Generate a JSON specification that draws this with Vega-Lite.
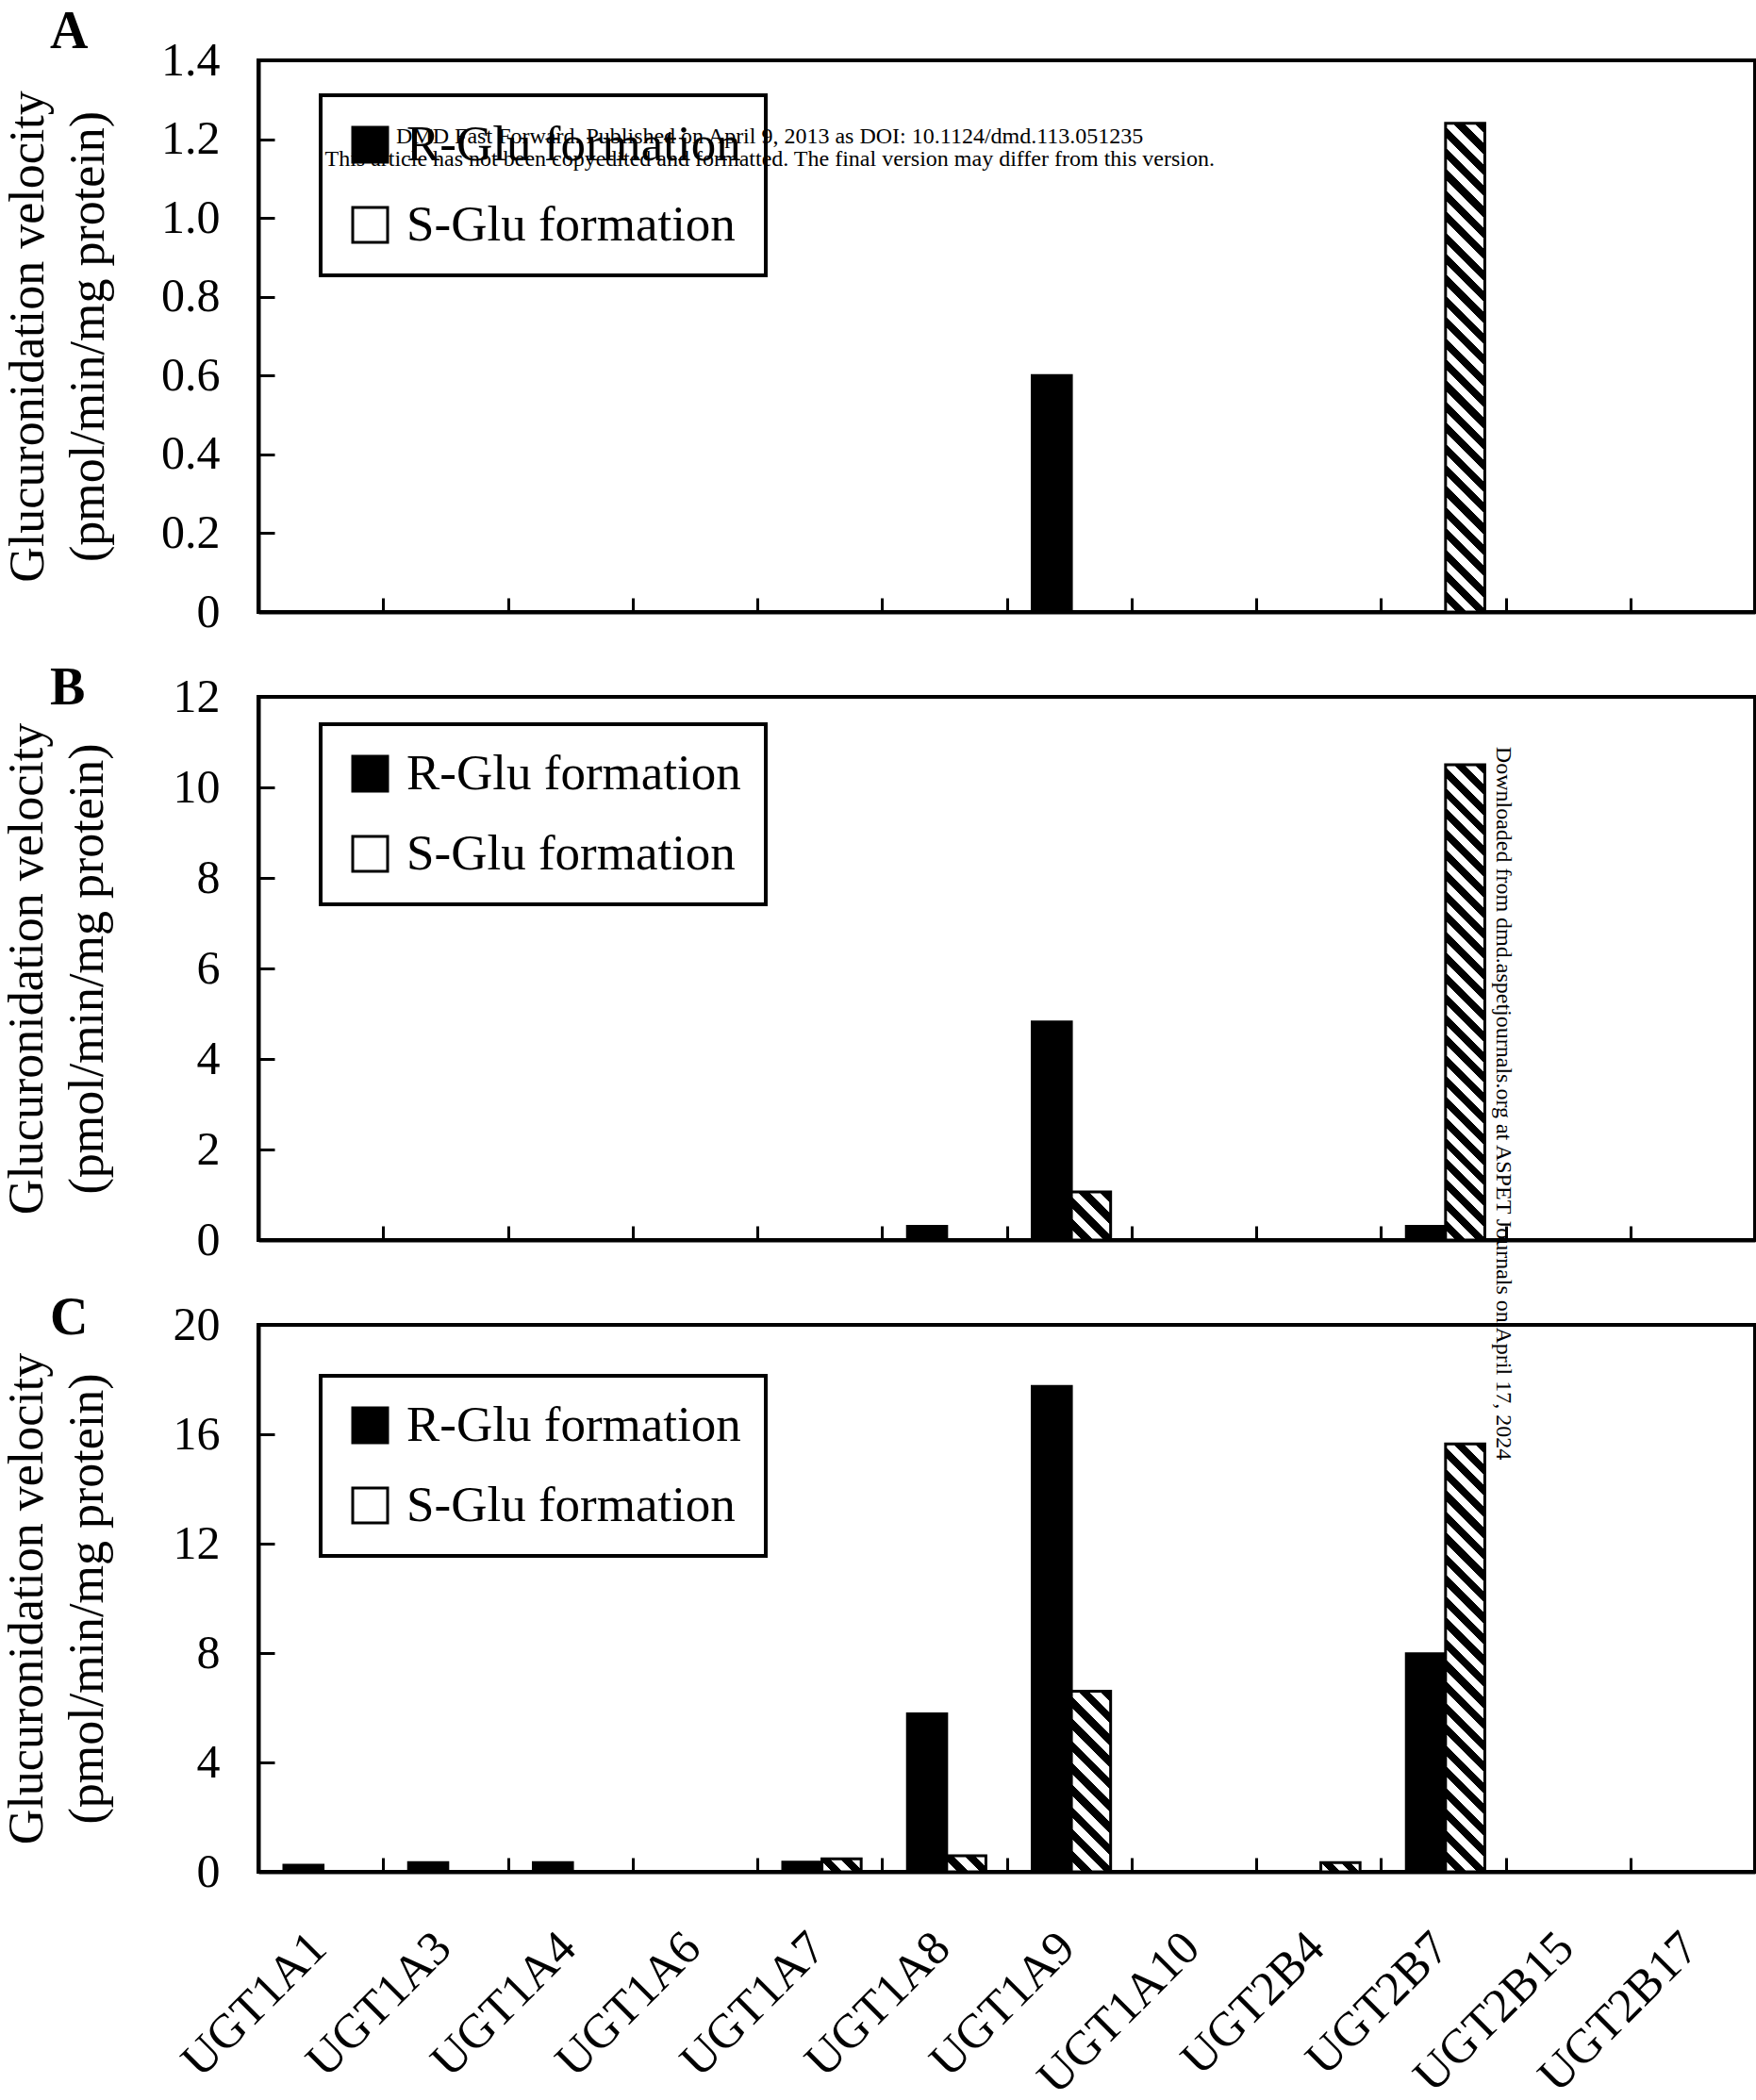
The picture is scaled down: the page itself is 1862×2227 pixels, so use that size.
{
  "$schema": "https://vega.github.io/schema/vega-lite/v6.json",
  "background": "white",
  "padding": {"left": 0, "top": 4, "right": 0, "bottom": 0},
  "datasets": {
    "bars": [
      {"panel": "A", "iso": "UGT1A1", "series": "R", "value": 0},
      {"panel": "A", "iso": "UGT1A3", "series": "R", "value": 0},
      {"panel": "A", "iso": "UGT1A4", "series": "R", "value": 0},
      {"panel": "A", "iso": "UGT1A6", "series": "R", "value": 0},
      {"panel": "A", "iso": "UGT1A7", "series": "R", "value": 0},
      {"panel": "A", "iso": "UGT1A8", "series": "R", "value": 0},
      {"panel": "A", "iso": "UGT1A9", "series": "R", "value": 0.60},
      {"panel": "A", "iso": "UGT1A10", "series": "R", "value": 0},
      {"panel": "A", "iso": "UGT2B4", "series": "R", "value": 0},
      {"panel": "A", "iso": "UGT2B7", "series": "R", "value": 0},
      {"panel": "A", "iso": "UGT2B15", "series": "R", "value": 0},
      {"panel": "A", "iso": "UGT2B17", "series": "R", "value": 0},
      {"panel": "A", "iso": "UGT1A1", "series": "S", "value": 0},
      {"panel": "A", "iso": "UGT1A3", "series": "S", "value": 0},
      {"panel": "A", "iso": "UGT1A4", "series": "S", "value": 0},
      {"panel": "A", "iso": "UGT1A6", "series": "S", "value": 0},
      {"panel": "A", "iso": "UGT1A7", "series": "S", "value": 0},
      {"panel": "A", "iso": "UGT1A8", "series": "S", "value": 0},
      {"panel": "A", "iso": "UGT1A9", "series": "S", "value": 0},
      {"panel": "A", "iso": "UGT1A10", "series": "S", "value": 0},
      {"panel": "A", "iso": "UGT2B4", "series": "S", "value": 0},
      {"panel": "A", "iso": "UGT2B7", "series": "S", "value": 1.24},
      {"panel": "A", "iso": "UGT2B15", "series": "S", "value": 0},
      {"panel": "A", "iso": "UGT2B17", "series": "S", "value": 0},
      {"panel": "B", "iso": "UGT1A1", "series": "R", "value": 0},
      {"panel": "B", "iso": "UGT1A3", "series": "R", "value": 0},
      {"panel": "B", "iso": "UGT1A4", "series": "R", "value": 0},
      {"panel": "B", "iso": "UGT1A6", "series": "R", "value": 0},
      {"panel": "B", "iso": "UGT1A7", "series": "R", "value": 0},
      {"panel": "B", "iso": "UGT1A8", "series": "R", "value": 0.30},
      {"panel": "B", "iso": "UGT1A9", "series": "R", "value": 4.82},
      {"panel": "B", "iso": "UGT1A10", "series": "R", "value": 0},
      {"panel": "B", "iso": "UGT2B4", "series": "R", "value": 0},
      {"panel": "B", "iso": "UGT2B7", "series": "R", "value": 0.30},
      {"panel": "B", "iso": "UGT2B15", "series": "R", "value": 0},
      {"panel": "B", "iso": "UGT2B17", "series": "R", "value": 0},
      {"panel": "B", "iso": "UGT1A1", "series": "S", "value": 0},
      {"panel": "B", "iso": "UGT1A3", "series": "S", "value": 0},
      {"panel": "B", "iso": "UGT1A4", "series": "S", "value": 0},
      {"panel": "B", "iso": "UGT1A6", "series": "S", "value": 0},
      {"panel": "B", "iso": "UGT1A7", "series": "S", "value": 0},
      {"panel": "B", "iso": "UGT1A8", "series": "S", "value": 0},
      {"panel": "B", "iso": "UGT1A9", "series": "S", "value": 1.06},
      {"panel": "B", "iso": "UGT1A10", "series": "S", "value": 0},
      {"panel": "B", "iso": "UGT2B4", "series": "S", "value": 0},
      {"panel": "B", "iso": "UGT2B7", "series": "S", "value": 10.5},
      {"panel": "B", "iso": "UGT2B15", "series": "S", "value": 0},
      {"panel": "B", "iso": "UGT2B17", "series": "S", "value": 0},
      {"panel": "C", "iso": "UGT1A1", "series": "R", "value": 0.24},
      {"panel": "C", "iso": "UGT1A3", "series": "R", "value": 0.34},
      {"panel": "C", "iso": "UGT1A4", "series": "R", "value": 0.34},
      {"panel": "C", "iso": "UGT1A6", "series": "R", "value": 0},
      {"panel": "C", "iso": "UGT1A7", "series": "R", "value": 0.35},
      {"panel": "C", "iso": "UGT1A8", "series": "R", "value": 5.78},
      {"panel": "C", "iso": "UGT1A9", "series": "R", "value": 17.75},
      {"panel": "C", "iso": "UGT1A10", "series": "R", "value": 0},
      {"panel": "C", "iso": "UGT2B4", "series": "R", "value": 0},
      {"panel": "C", "iso": "UGT2B7", "series": "R", "value": 7.97},
      {"panel": "C", "iso": "UGT2B15", "series": "R", "value": 0},
      {"panel": "C", "iso": "UGT2B17", "series": "R", "value": 0},
      {"panel": "C", "iso": "UGT1A1", "series": "S", "value": 0},
      {"panel": "C", "iso": "UGT1A3", "series": "S", "value": 0},
      {"panel": "C", "iso": "UGT1A4", "series": "S", "value": 0},
      {"panel": "C", "iso": "UGT1A6", "series": "S", "value": 0},
      {"panel": "C", "iso": "UGT1A7", "series": "S", "value": 0.47},
      {"panel": "C", "iso": "UGT1A8", "series": "S", "value": 0.59},
      {"panel": "C", "iso": "UGT1A9", "series": "S", "value": 6.6},
      {"panel": "C", "iso": "UGT1A10", "series": "S", "value": 0},
      {"panel": "C", "iso": "UGT2B4", "series": "S", "value": 0.34},
      {"panel": "C", "iso": "UGT2B7", "series": "S", "value": 15.65},
      {"panel": "C", "iso": "UGT2B15", "series": "S", "value": 0},
      {"panel": "C", "iso": "UGT2B17", "series": "S", "value": 0}
    ]
  },
  "bounds": "flush",
  "spacing": 90,
  "resolve": {
    "scale": {"fill": "independent"},
    "legend": {"fill": "independent"}
  },
  "vconcat": [
    {
      "width": 1587,
      "height": 585,
      "title": {"text": "A", "anchor": "start", "frame": "group", "dx": -221, "dy": 68, "offset": 0, "baseline": "alphabetic", "fontSize": 56, "fontWeight": "bold", "font": "Liberation Serif", "color": "black"},
      "layer": [
        {
          "data": {"name": "bars"},
          "transform": [{"filter": "datum.panel === 'A' && datum.series === 'R'"}],
          "mark": {"type": "bar", "stroke": "black", "strokeWidth": 3},
          "encoding": {
            "x": {"field": "iso", "type": "nominal",
              "scale": {"type": "band", "domain": ["UGT1A1","UGT1A3","UGT1A4","UGT1A6","UGT1A7","UGT1A8","UGT1A9","UGT1A10","UGT2B4","UGT2B7","UGT2B15","UGT2B17"], "paddingInner": 0, "paddingOuter": 0},
              "axis": {"title": null, "labels": false, "tickSize": -15, "tickBand": "extent"}},
            "xOffset": {"field": "series", "type": "nominal", "scale": {"domain": ["R","S"], "paddingInner": 0, "paddingOuter": 0.59, "align": 0.55}},
            "y": {"field": "value", "type": "quantitative", "scale": {"domain": [0, 1.4], "nice": false},
              "axis": {"values": [0,0.2,0.4,0.6,0.8,1,1.2,1.4], "labelExpr": "datum.value === 0 ? '0' : format(datum.value, '.1f')", "tickSize": -17, "labelPadding": 58, "labelFontSize": 50,
                "title": ["Glucuronidation velocity", "(pmol/min/mg protein)"], "titleFontSize": 52, "titleFontWeight": "normal", "titleLineHeight": 64, "titlePadding": 50}},
            "fill": {"field": "series", "type": "nominal", "scale": {"domain": ["R","S"], "range": ["black","white"]},
              "legend": {"orient": "none", "legendX": 66, "legendY": 37, "title": null, "symbolType": "square", "symbolSize": 1369, "symbolStrokeColor": "black", "symbolStrokeWidth": 3, "labelFontSize": 53, "labelFont": "Liberation Serif", "labelColor": "black", "labelLimit": 0, "labelOffset": 12, "rowPadding": 31, "padding": 26, "strokeColor": "black",
                "labelExpr": "datum.value === 'R' ? 'R-Glu formation' : 'S-Glu formation'"}}
          }
        },
        {
          "data": {"name": "bars"},
          "transform": [{"filter": "datum.panel === 'A' && datum.series === 'S'"}],
          "mark": {"type": "bar", "stroke": "black", "strokeWidth": 3},
          "encoding": {
            "x": {"field": "iso", "type": "nominal"},
            "xOffset": {"field": "series", "type": "nominal"},
            "y": {"field": "value", "type": "quantitative"},
            "fill": {"condition": [
                {"test": "datum.iso === 'UGT2B7'", "value": {"gradient":"linear","x1":0,"y1":1,"x2":0.0862,"y2":-0.0734,"stops":[{"offset":0.02,"color":"#fff"},{"offset":0.02,"color":"#000"},{"offset":0.04,"color":"#000"},{"offset":0.04,"color":"#fff"},{"offset":0.06,"color":"#fff"},{"offset":0.06,"color":"#000"},{"offset":0.08,"color":"#000"},{"offset":0.08,"color":"#fff"},{"offset":0.1,"color":"#fff"},{"offset":0.1,"color":"#000"},{"offset":0.12,"color":"#000"},{"offset":0.12,"color":"#fff"},{"offset":0.14,"color":"#fff"},{"offset":0.14,"color":"#000"},{"offset":0.16,"color":"#000"},{"offset":0.16,"color":"#fff"},{"offset":0.18,"color":"#fff"},{"offset":0.18,"color":"#000"},{"offset":0.2,"color":"#000"},{"offset":0.2,"color":"#fff"},{"offset":0.22,"color":"#fff"},{"offset":0.22,"color":"#000"},{"offset":0.24,"color":"#000"},{"offset":0.24,"color":"#fff"},{"offset":0.26,"color":"#fff"},{"offset":0.26,"color":"#000"},{"offset":0.28,"color":"#000"},{"offset":0.28,"color":"#fff"},{"offset":0.3,"color":"#fff"},{"offset":0.3,"color":"#000"},{"offset":0.32,"color":"#000"},{"offset":0.32,"color":"#fff"},{"offset":0.34,"color":"#fff"},{"offset":0.34,"color":"#000"},{"offset":0.36,"color":"#000"},{"offset":0.36,"color":"#fff"},{"offset":0.38,"color":"#fff"},{"offset":0.38,"color":"#000"},{"offset":0.4,"color":"#000"},{"offset":0.4,"color":"#fff"},{"offset":0.42,"color":"#fff"},{"offset":0.42,"color":"#000"},{"offset":0.44,"color":"#000"},{"offset":0.44,"color":"#fff"},{"offset":0.46,"color":"#fff"},{"offset":0.46,"color":"#000"},{"offset":0.48,"color":"#000"},{"offset":0.48,"color":"#fff"},{"offset":0.5,"color":"#fff"},{"offset":0.5,"color":"#000"},{"offset":0.52,"color":"#000"},{"offset":0.52,"color":"#fff"},{"offset":0.54,"color":"#fff"},{"offset":0.54,"color":"#000"},{"offset":0.56,"color":"#000"},{"offset":0.56,"color":"#fff"},{"offset":0.58,"color":"#fff"},{"offset":0.58,"color":"#000"},{"offset":0.6,"color":"#000"},{"offset":0.6,"color":"#fff"},{"offset":0.62,"color":"#fff"},{"offset":0.62,"color":"#000"},{"offset":0.64,"color":"#000"},{"offset":0.64,"color":"#fff"},{"offset":0.66,"color":"#fff"},{"offset":0.66,"color":"#000"},{"offset":0.68,"color":"#000"},{"offset":0.68,"color":"#fff"},{"offset":0.7,"color":"#fff"},{"offset":0.7,"color":"#000"},{"offset":0.72,"color":"#000"},{"offset":0.72,"color":"#fff"},{"offset":0.74,"color":"#fff"},{"offset":0.74,"color":"#000"},{"offset":0.76,"color":"#000"},{"offset":0.76,"color":"#fff"},{"offset":0.78,"color":"#fff"},{"offset":0.78,"color":"#000"},{"offset":0.8,"color":"#000"},{"offset":0.8,"color":"#fff"},{"offset":0.82,"color":"#fff"},{"offset":0.82,"color":"#000"},{"offset":0.84,"color":"#000"},{"offset":0.84,"color":"#fff"},{"offset":0.86,"color":"#fff"},{"offset":0.86,"color":"#000"},{"offset":0.88,"color":"#000"},{"offset":0.88,"color":"#fff"},{"offset":0.9,"color":"#fff"},{"offset":0.9,"color":"#000"},{"offset":0.92,"color":"#000"},{"offset":0.92,"color":"#fff"},{"offset":0.94,"color":"#fff"},{"offset":0.94,"color":"#000"},{"offset":0.96,"color":"#000"},{"offset":0.96,"color":"#fff"},{"offset":0.98,"color":"#fff"},{"offset":0.98,"color":"#000"}]}}
              ], "value": "white"}
          }
        },
        {
          "data": {"values": [{"note": "DMD Fast Forward. Published on April 9, 2013 as DOI: 10.1124/dmd.113.051235"}]},
          "mark": {"type": "text", "fontSize": 24, "font": "Liberation Serif", "align": "center", "baseline": "alphabetic", "color": "black"},
          "encoding": {
            "x": {"datum": "UGT1A7", "type": "nominal", "bandPosition": 0.1},
            "y": {"datum": 1.189, "type": "quantitative"},
            "text": {"field": "note"}
          }
        },
        {
          "data": {"values": [{"note": "This article has not been copyedited and formatted. The final version may differ from this version."}]},
          "mark": {"type": "text", "fontSize": 24, "font": "Liberation Serif", "align": "center", "baseline": "alphabetic", "color": "black"},
          "encoding": {
            "x": {"datum": "UGT1A7", "type": "nominal", "bandPosition": 0.1},
            "y": {"datum": 1.132, "type": "quantitative"},
            "text": {"field": "note"}
          }
        }
      ]
    },
    {
      "width": 1587,
      "height": 576,
      "title": {"text": "B", "anchor": "start", "frame": "group", "dx": -221, "dy": 89, "offset": 0, "baseline": "alphabetic", "fontSize": 56, "fontWeight": "bold", "font": "Liberation Serif", "color": "black"},
      "layer": [
        {
          "data": {"name": "bars"},
          "transform": [{"filter": "datum.panel === 'B' && datum.series === 'R'"}],
          "mark": {"type": "bar", "stroke": "black", "strokeWidth": 3},
          "encoding": {
            "x": {"field": "iso", "type": "nominal",
              "scale": {"type": "band", "domain": ["UGT1A1","UGT1A3","UGT1A4","UGT1A6","UGT1A7","UGT1A8","UGT1A9","UGT1A10","UGT2B4","UGT2B7","UGT2B15","UGT2B17"], "paddingInner": 0, "paddingOuter": 0},
              "axis": {"title": null, "labels": false, "tickSize": -15, "tickBand": "extent"}},
            "xOffset": {"field": "series", "type": "nominal", "scale": {"domain": ["R","S"], "paddingInner": 0, "paddingOuter": 0.59, "align": 0.55}},
            "y": {"field": "value", "type": "quantitative", "scale": {"domain": [0, 12], "nice": false},
              "axis": {"values": [0,2,4,6,8,10,12], "tickSize": -17, "labelPadding": 58, "labelFontSize": 50,
                "title": ["Glucuronidation velocity", "(pmol/min/mg protein)"], "titleFontSize": 52, "titleFontWeight": "normal", "titleLineHeight": 64, "titlePadding": 64}},
            "fill": {"field": "series", "type": "nominal", "scale": {"domain": ["R","S"], "range": ["black","white"]},
              "legend": {"orient": "none", "legendX": 66, "legendY": 29, "title": null, "symbolType": "square", "symbolSize": 1369, "symbolStrokeColor": "black", "symbolStrokeWidth": 3, "labelFontSize": 53, "labelFont": "Liberation Serif", "labelColor": "black", "labelLimit": 0, "labelOffset": 12, "rowPadding": 31, "padding": 26, "strokeColor": "black",
                "labelExpr": "datum.value === 'R' ? 'R-Glu formation' : 'S-Glu formation'"}}
          }
        },
        {
          "data": {"name": "bars"},
          "transform": [{"filter": "datum.panel === 'B' && datum.series === 'S'"}],
          "mark": {"type": "bar", "stroke": "black", "strokeWidth": 3},
          "encoding": {
            "x": {"field": "iso", "type": "nominal"},
            "xOffset": {"field": "series", "type": "nominal"},
            "y": {"field": "value", "type": "quantitative"},
            "fill": {"condition": [
                {"test": "datum.iso === 'UGT1A9'", "value": {"gradient":"linear","x1":0,"y1":1,"x2":0.8906,"y2":-0.0895,"stops":[{"offset":0.125,"color":"#fff"},{"offset":0.125,"color":"#000"},{"offset":0.25,"color":"#000"},{"offset":0.25,"color":"#fff"},{"offset":0.375,"color":"#fff"},{"offset":0.375,"color":"#000"},{"offset":0.5,"color":"#000"},{"offset":0.5,"color":"#fff"},{"offset":0.625,"color":"#fff"},{"offset":0.625,"color":"#000"},{"offset":0.75,"color":"#000"},{"offset":0.75,"color":"#fff"},{"offset":0.875,"color":"#fff"},{"offset":0.875,"color":"#000"}]}},
                {"test": "datum.iso === 'UGT2B7'", "value": {"gradient":"linear","x1":0,"y1":1,"x2":0.0887,"y2":-0.0752,"stops":[{"offset":0.02,"color":"#fff"},{"offset":0.02,"color":"#000"},{"offset":0.04,"color":"#000"},{"offset":0.04,"color":"#fff"},{"offset":0.06,"color":"#fff"},{"offset":0.06,"color":"#000"},{"offset":0.08,"color":"#000"},{"offset":0.08,"color":"#fff"},{"offset":0.1,"color":"#fff"},{"offset":0.1,"color":"#000"},{"offset":0.12,"color":"#000"},{"offset":0.12,"color":"#fff"},{"offset":0.14,"color":"#fff"},{"offset":0.14,"color":"#000"},{"offset":0.16,"color":"#000"},{"offset":0.16,"color":"#fff"},{"offset":0.18,"color":"#fff"},{"offset":0.18,"color":"#000"},{"offset":0.2,"color":"#000"},{"offset":0.2,"color":"#fff"},{"offset":0.22,"color":"#fff"},{"offset":0.22,"color":"#000"},{"offset":0.24,"color":"#000"},{"offset":0.24,"color":"#fff"},{"offset":0.26,"color":"#fff"},{"offset":0.26,"color":"#000"},{"offset":0.28,"color":"#000"},{"offset":0.28,"color":"#fff"},{"offset":0.3,"color":"#fff"},{"offset":0.3,"color":"#000"},{"offset":0.32,"color":"#000"},{"offset":0.32,"color":"#fff"},{"offset":0.34,"color":"#fff"},{"offset":0.34,"color":"#000"},{"offset":0.36,"color":"#000"},{"offset":0.36,"color":"#fff"},{"offset":0.38,"color":"#fff"},{"offset":0.38,"color":"#000"},{"offset":0.4,"color":"#000"},{"offset":0.4,"color":"#fff"},{"offset":0.42,"color":"#fff"},{"offset":0.42,"color":"#000"},{"offset":0.44,"color":"#000"},{"offset":0.44,"color":"#fff"},{"offset":0.46,"color":"#fff"},{"offset":0.46,"color":"#000"},{"offset":0.48,"color":"#000"},{"offset":0.48,"color":"#fff"},{"offset":0.5,"color":"#fff"},{"offset":0.5,"color":"#000"},{"offset":0.52,"color":"#000"},{"offset":0.52,"color":"#fff"},{"offset":0.54,"color":"#fff"},{"offset":0.54,"color":"#000"},{"offset":0.56,"color":"#000"},{"offset":0.56,"color":"#fff"},{"offset":0.58,"color":"#fff"},{"offset":0.58,"color":"#000"},{"offset":0.6,"color":"#000"},{"offset":0.6,"color":"#fff"},{"offset":0.62,"color":"#fff"},{"offset":0.62,"color":"#000"},{"offset":0.64,"color":"#000"},{"offset":0.64,"color":"#fff"},{"offset":0.66,"color":"#fff"},{"offset":0.66,"color":"#000"},{"offset":0.68,"color":"#000"},{"offset":0.68,"color":"#fff"},{"offset":0.7,"color":"#fff"},{"offset":0.7,"color":"#000"},{"offset":0.72,"color":"#000"},{"offset":0.72,"color":"#fff"},{"offset":0.74,"color":"#fff"},{"offset":0.74,"color":"#000"},{"offset":0.76,"color":"#000"},{"offset":0.76,"color":"#fff"},{"offset":0.78,"color":"#fff"},{"offset":0.78,"color":"#000"},{"offset":0.8,"color":"#000"},{"offset":0.8,"color":"#fff"},{"offset":0.82,"color":"#fff"},{"offset":0.82,"color":"#000"},{"offset":0.84,"color":"#000"},{"offset":0.84,"color":"#fff"},{"offset":0.86,"color":"#fff"},{"offset":0.86,"color":"#000"},{"offset":0.88,"color":"#000"},{"offset":0.88,"color":"#fff"},{"offset":0.9,"color":"#fff"},{"offset":0.9,"color":"#000"},{"offset":0.92,"color":"#000"},{"offset":0.92,"color":"#fff"},{"offset":0.94,"color":"#fff"},{"offset":0.94,"color":"#000"},{"offset":0.96,"color":"#000"},{"offset":0.96,"color":"#fff"},{"offset":0.98,"color":"#fff"},{"offset":0.98,"color":"#000"}]}}
              ], "value": "white"}
          }
        },
        {
          "data": {"values": [{"note": "Downloaded from dmd.aspetjournals.org at ASPET Journals on April 17, 2024"}]},
          "mark": {"type": "text", "angle": 90, "fontSize": 24, "font": "Liberation Serif", "align": "left", "baseline": "alphabetic", "color": "black"},
          "encoding": {
            "x": {"datum": "UGT2B7", "type": "nominal", "bandPosition": 0.93},
            "y": {"datum": 10.9, "type": "quantitative"},
            "text": {"field": "note"}
          }
        }
      ]
    },
    {
      "width": 1587,
      "height": 580,
      "title": {"text": "C", "anchor": "start", "frame": "group", "dx": -221, "dy": 91, "offset": 0, "baseline": "alphabetic", "fontSize": 56, "fontWeight": "bold", "font": "Liberation Serif", "color": "black"},
      "layer": [
        {
          "data": {"name": "bars"},
          "transform": [{"filter": "datum.panel === 'C' && datum.series === 'R'"}],
          "mark": {"type": "bar", "stroke": "black", "strokeWidth": 3},
          "encoding": {
            "x": {"field": "iso", "type": "nominal",
              "scale": {"type": "band", "domain": ["UGT1A1","UGT1A3","UGT1A4","UGT1A6","UGT1A7","UGT1A8","UGT1A9","UGT1A10","UGT2B4","UGT2B7","UGT2B15","UGT2B17"], "paddingInner": 0, "paddingOuter": 0},
              "axis": {"title": null, "labels": true, "tickSize": -15, "tickBand": "extent", "labelAngle": -45, "labelAlign": "right", "labelBaseline": "top", "labelFontSize": 51, "labelPadding": 70, "labelOffset": -20, "labelLimit": 0, "labelOverlap": false}},
            "xOffset": {"field": "series", "type": "nominal", "scale": {"domain": ["R","S"], "paddingInner": 0, "paddingOuter": 0.59, "align": 0.55}},
            "y": {"field": "value", "type": "quantitative", "scale": {"domain": [0, 20], "nice": false},
              "axis": {"values": [0,4,8,12,16,20], "tickSize": -17, "labelPadding": 58, "labelFontSize": 50,
                "title": ["Glucuronidation velocity", "(pmol/min/mg protein)"], "titleFontSize": 52, "titleFontWeight": "normal", "titleLineHeight": 64, "titlePadding": 64}},
            "fill": {"field": "series", "type": "nominal", "scale": {"domain": ["R","S"], "range": ["black","white"]},
              "legend": {"orient": "none", "legendX": 66, "legendY": 54, "title": null, "symbolType": "square", "symbolSize": 1369, "symbolStrokeColor": "black", "symbolStrokeWidth": 3, "labelFontSize": 53, "labelFont": "Liberation Serif", "labelColor": "black", "labelLimit": 0, "labelOffset": 12, "rowPadding": 31, "padding": 26, "strokeColor": "black",
                "labelExpr": "datum.value === 'R' ? 'R-Glu formation' : 'S-Glu formation'"}}
          }
        },
        {
          "data": {"name": "bars"},
          "transform": [{"filter": "datum.panel === 'C' && datum.series === 'S'"}],
          "mark": {"type": "bar", "stroke": "black", "strokeWidth": 3},
          "encoding": {
            "x": {"field": "iso", "type": "nominal"},
            "xOffset": {"field": "series", "type": "nominal"},
            "y": {"field": "value", "type": "quantitative"},
            "fill": {"condition": [
                {"test": "datum.iso === 'UGT1A7'", "value": {"gradient":"linear","x1":0,"y1":1,"x2":1.199,"y2":0.6071,"stops":[{"offset":0.2,"color":"#fff"},{"offset":0.2,"color":"#000"},{"offset":0.4,"color":"#000"},{"offset":0.4,"color":"#fff"},{"offset":0.6,"color":"#fff"},{"offset":0.6,"color":"#000"},{"offset":0.8,"color":"#000"},{"offset":0.8,"color":"#fff"}]}},
                {"test": "datum.iso === 'UGT1A8'", "value": {"gradient":"linear","x1":0,"y1":1,"x2":1.2071,"y2":0.5034,"stops":[{"offset":0.2,"color":"#fff"},{"offset":0.2,"color":"#000"},{"offset":0.4,"color":"#000"},{"offset":0.4,"color":"#fff"},{"offset":0.6,"color":"#fff"},{"offset":0.6,"color":"#000"},{"offset":0.8,"color":"#000"},{"offset":0.8,"color":"#fff"}]}},
                {"test": "datum.iso === 'UGT2B4'", "value": {"gradient":"linear","x1":0,"y1":1,"x2":1.1713,"y2":0.7223,"stops":[{"offset":0.2,"color":"#fff"},{"offset":0.2,"color":"#000"},{"offset":0.4,"color":"#000"},{"offset":0.4,"color":"#fff"},{"offset":0.6,"color":"#fff"},{"offset":0.6,"color":"#000"},{"offset":0.8,"color":"#000"},{"offset":0.8,"color":"#fff"}]}},
                {"test": "datum.iso === 'UGT1A9'", "value": {"gradient":"linear","x1":0,"y1":1,"x2":0.2526,"y2":-0.1624,"stops":[{"offset":0.05,"color":"#fff"},{"offset":0.05,"color":"#000"},{"offset":0.1,"color":"#000"},{"offset":0.1,"color":"#fff"},{"offset":0.15,"color":"#fff"},{"offset":0.15,"color":"#000"},{"offset":0.2,"color":"#000"},{"offset":0.2,"color":"#fff"},{"offset":0.25,"color":"#fff"},{"offset":0.25,"color":"#000"},{"offset":0.3,"color":"#000"},{"offset":0.3,"color":"#fff"},{"offset":0.35,"color":"#fff"},{"offset":0.35,"color":"#000"},{"offset":0.4,"color":"#000"},{"offset":0.4,"color":"#fff"},{"offset":0.45,"color":"#fff"},{"offset":0.45,"color":"#000"},{"offset":0.5,"color":"#000"},{"offset":0.5,"color":"#fff"},{"offset":0.55,"color":"#fff"},{"offset":0.55,"color":"#000"},{"offset":0.6,"color":"#000"},{"offset":0.6,"color":"#fff"},{"offset":0.65,"color":"#fff"},{"offset":0.65,"color":"#000"},{"offset":0.7,"color":"#000"},{"offset":0.7,"color":"#fff"},{"offset":0.75,"color":"#fff"},{"offset":0.75,"color":"#000"},{"offset":0.8,"color":"#000"},{"offset":0.8,"color":"#fff"},{"offset":0.85,"color":"#fff"},{"offset":0.85,"color":"#000"},{"offset":0.9,"color":"#000"},{"offset":0.9,"color":"#fff"},{"offset":0.95,"color":"#fff"},{"offset":0.95,"color":"#000"}]}},
                {"test": "datum.iso === 'UGT2B7'", "value": {"gradient":"linear","x1":0,"y1":1,"x2":0.0992,"y2":-0.0826,"stops":[{"offset":0.0227,"color":"#fff"},{"offset":0.0227,"color":"#000"},{"offset":0.0455,"color":"#000"},{"offset":0.0455,"color":"#fff"},{"offset":0.0682,"color":"#fff"},{"offset":0.0682,"color":"#000"},{"offset":0.0909,"color":"#000"},{"offset":0.0909,"color":"#fff"},{"offset":0.1136,"color":"#fff"},{"offset":0.1136,"color":"#000"},{"offset":0.1364,"color":"#000"},{"offset":0.1364,"color":"#fff"},{"offset":0.1591,"color":"#fff"},{"offset":0.1591,"color":"#000"},{"offset":0.1818,"color":"#000"},{"offset":0.1818,"color":"#fff"},{"offset":0.2045,"color":"#fff"},{"offset":0.2045,"color":"#000"},{"offset":0.2273,"color":"#000"},{"offset":0.2273,"color":"#fff"},{"offset":0.25,"color":"#fff"},{"offset":0.25,"color":"#000"},{"offset":0.2727,"color":"#000"},{"offset":0.2727,"color":"#fff"},{"offset":0.2955,"color":"#fff"},{"offset":0.2955,"color":"#000"},{"offset":0.3182,"color":"#000"},{"offset":0.3182,"color":"#fff"},{"offset":0.3409,"color":"#fff"},{"offset":0.3409,"color":"#000"},{"offset":0.3636,"color":"#000"},{"offset":0.3636,"color":"#fff"},{"offset":0.3864,"color":"#fff"},{"offset":0.3864,"color":"#000"},{"offset":0.4091,"color":"#000"},{"offset":0.4091,"color":"#fff"},{"offset":0.4318,"color":"#fff"},{"offset":0.4318,"color":"#000"},{"offset":0.4545,"color":"#000"},{"offset":0.4545,"color":"#fff"},{"offset":0.4773,"color":"#fff"},{"offset":0.4773,"color":"#000"},{"offset":0.5,"color":"#000"},{"offset":0.5,"color":"#fff"},{"offset":0.5227,"color":"#fff"},{"offset":0.5227,"color":"#000"},{"offset":0.5455,"color":"#000"},{"offset":0.5455,"color":"#fff"},{"offset":0.5682,"color":"#fff"},{"offset":0.5682,"color":"#000"},{"offset":0.5909,"color":"#000"},{"offset":0.5909,"color":"#fff"},{"offset":0.6136,"color":"#fff"},{"offset":0.6136,"color":"#000"},{"offset":0.6364,"color":"#000"},{"offset":0.6364,"color":"#fff"},{"offset":0.6591,"color":"#fff"},{"offset":0.6591,"color":"#000"},{"offset":0.6818,"color":"#000"},{"offset":0.6818,"color":"#fff"},{"offset":0.7045,"color":"#fff"},{"offset":0.7045,"color":"#000"},{"offset":0.7273,"color":"#000"},{"offset":0.7273,"color":"#fff"},{"offset":0.75,"color":"#fff"},{"offset":0.75,"color":"#000"},{"offset":0.7727,"color":"#000"},{"offset":0.7727,"color":"#fff"},{"offset":0.7955,"color":"#fff"},{"offset":0.7955,"color":"#000"},{"offset":0.8182,"color":"#000"},{"offset":0.8182,"color":"#fff"},{"offset":0.8409,"color":"#fff"},{"offset":0.8409,"color":"#000"},{"offset":0.8636,"color":"#000"},{"offset":0.8636,"color":"#fff"},{"offset":0.8864,"color":"#fff"},{"offset":0.8864,"color":"#000"},{"offset":0.9091,"color":"#000"},{"offset":0.9091,"color":"#fff"},{"offset":0.9318,"color":"#fff"},{"offset":0.9318,"color":"#000"},{"offset":0.9545,"color":"#000"},{"offset":0.9545,"color":"#fff"},{"offset":0.9773,"color":"#fff"},{"offset":0.9773,"color":"#000"}]}}
              ], "value": "white"}
          }
        }
      ]
    }
  ],
  "config": {
    "font": "Liberation Serif",
    "view": {"stroke": "black", "strokeWidth": 4},
    "legend": {"strokeWidth": 4},
    "axis": {"domainColor": "black", "domainWidth": 4, "tickColor": "black", "tickWidth": 3, "labelColor": "black", "titleColor": "black", "labelFont": "Liberation Serif", "titleFont": "Liberation Serif", "grid": false}
  }
}
